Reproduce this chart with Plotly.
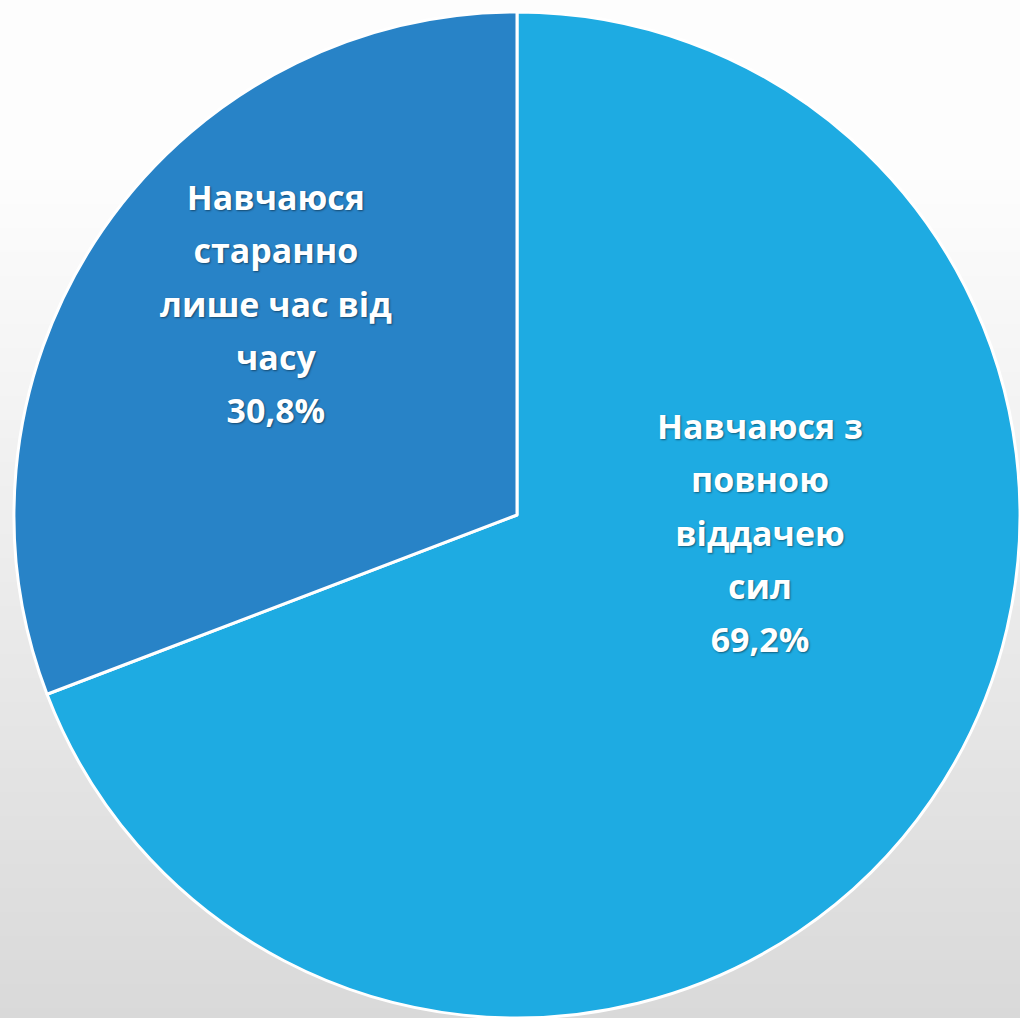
import plotly.graph_objects as go

# Data
labels = ["Навчаюся з повною віддачею сил", "Навчаюся старанно лише час від часу"]
label_lines = [["Навчаюся з", "повною", "віддачею", "сил"],
               ["Навчаюся", "старанно", "лише час від", "часу"]]
values = [69.2, 30.8]
value_text = ["69,2%", "30,8%"]
colors = ["#1EABE2", "#2883C7"]

W, H = 1020, 1018

fig = go.Figure()
fig.add_trace(go.Pie(
    labels=labels,
    values=values,
    textinfo="none",
    sort=False,
    direction="clockwise",
    rotation=0,
    marker=dict(colors=colors, line=dict(color="white", width=3)),
    showlegend=False,
    hoverinfo="skip",
    domain=dict(x=[14 / W, 1.0], y=[0.0, 1006 / H]),
))

# Slice labels (white bold, centred in each slice)
label_pos = [(760 / W, 1 - 532 / H), (276 / W, 1 - 303 / H)]
for lines, vt, (ax, ay) in zip(label_lines, value_text, label_pos):
    txt = '<span style="font-size:34px">' + "<br>".join(lines + [vt]) + "</span>"
    fig.add_annotation(
        x=ax, y=ay, xref="paper", yref="paper",
        xanchor="center", yanchor="middle", showarrow=False,
        text=txt, align="center",
        font=dict(family="Open Sans", size=41, color="white", weight="bold",
                  shadow="1px 1px 2px rgba(0,0,0,0.45)"),
    )

# Background gradient (white at top to light grey at bottom)
shapes = []
band = 6
top_start = 170
for y0 in range(0, H, band):
    yc = y0 + band / 2
    if yc < top_start:
        g = 253
    else:
        g = round(253 - 36 * (yc - top_start) / (H - top_start))
    col = f"rgb({g},{g},{g})"
    shapes.append(dict(type="rect", xref="paper", yref="paper", layer="below",
                       x0=0, x1=1, y0=1 - (y0 + band) / H, y1=1 - y0 / H,
                       fillcolor=col, line=dict(width=0)))

fig.update_layout(
    width=W, height=H,
    margin=dict(l=0, r=0, t=0, b=0),
    paper_bgcolor="#fdfdfd",
    plot_bgcolor="#fdfdfd",
    shapes=shapes,
)

fig.write_html("out.html", config={"displayModeBar": False},
               post_script="document.body.style.margin='0';document.body.style.overflow='hidden';")
